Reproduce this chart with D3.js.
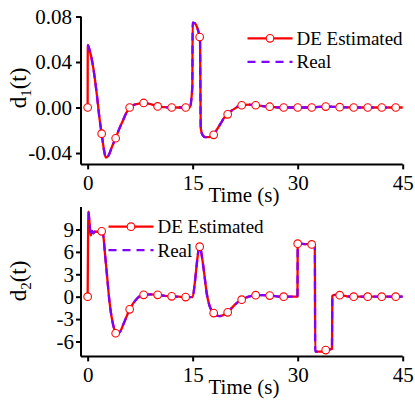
<!DOCTYPE html>
<html>
<head>
<meta charset="utf-8">
<script src="https://cdn.jsdelivr.net/npm/d3@7"></script>
<style>
  html, body { margin: 0; padding: 0; background: #fff; }
  svg { display: block; }
  svg text { font-family: 'Liberation Serif', 'DejaVu Serif', serif !important; }
</style>
</head>
<body>
<script>
// ---------- DATA ----------
const xTicks = [0, 15, 30, 45];
const markerTimes = [0,2,4,6,8,10,12,14,16,18,20,22,24,26,28,30,32,34,36,38,40,42,44];

// d1 : DE Estimated (red)
const d1EstT = [0,0.02,0.3,0.8,1.3,1.7,2.0,2.3,2.6,3.0,3.5,4.0,4.5,5.0,5.5,6.0,6.5,7.0,8.0,9.0,10.0,11.0,12.0,13.0,14.0,14.6,14.95,15.0,15.3,15.6,15.9,16.05,16.15,16.4,16.8,17.3,18.0,18.5,19.0,19.5,20.0,20.5,21.0,21.5,22.0,23.0,24.0,25.0,26.0,27.0,28.0,30,32,33,34,35,36,38,40,42,44,45];
const d1EstV = [0,0.055,0.050,0.035,0.012,-0.010,-0.023,-0.036,-0.044,-0.042,-0.034,-0.027,-0.019,-0.012,-0.005,0.000,0.002,0.003,0.0038,0.003,0.001,0.0003,0,0,0,0,0.018,0.0745,0.074,0.071,0.065,0.061,-0.018,-0.024,-0.026,-0.026,-0.024,-0.019,-0.014,-0.009,-0.006,-0.003,-0.001,0.001,0.002,0.0025,0.002,0.0012,0.0007,0.0002,0,0,0,0.0005,0.0008,0.0006,0.0003,0,0,0,0,0];
// d1 : Real (purple dashed)
const d1RealT = [0.02,0.3,0.8,1.3,1.7,2.0,2.3,2.6,3.0,3.5,4.0,4.5,5.0,5.5,6.0,6.5,7.0,8.0,9.0,10.0,11.0,12.0,13.0,14.0,14.6,14.95,15.0,15.3,15.6,15.9,16.05,16.15,16.4,16.8,17.3,18.0,18.5,19.0,19.5,20.0,20.5,21.0,21.5,22.0,23.0,24.0,25.0,26.0,27.0,28.0,30,32,33,34,35,36,38,40,42,44,45];
const d1RealV = [0.055,0.050,0.035,0.012,-0.010,-0.023,-0.036,-0.044,-0.042,-0.034,-0.027,-0.019,-0.012,-0.005,0.000,0.002,0.003,0.0038,0.003,0.001,0.0003,0,0,0,0,0.018,0.0745,0.074,0.071,0.065,0.061,-0.018,-0.024,-0.026,-0.026,-0.024,-0.019,-0.014,-0.009,-0.006,-0.003,-0.001,0.001,0.002,0.0025,0.002,0.0012,0.0007,0.0002,0,0,0,0.0005,0.0008,0.0006,0.0003,0,0,0,0,0];
// d1 markers (every 2 s)
const d1Markers = [0,-0.023,-0.027,0.000,0.004,0.001,0,0,0.062,-0.024,-0.006,0.002,0.002,0.0007,0,0,0,0.0008,0.0003,0,0,0,0];
const d1Ticks = [-0.04, 0.00, 0.04, 0.08];

// d2 : DE Estimated (red)
const d2EstT = [0,0.12,0.3,0.45,0.6,0.8,1.0,1.5,2.0,2.2,2.5,2.8,3.1,3.4,3.7,4.0,4.3,4.7,5.1,5.5,6.0,6.5,7.0,7.5,8.0,9.0,10.0,11.0,12.0,13.0,14.0,15.0,15.3,15.6,15.85,16.05,16.3,16.6,17.0,17.4,17.8,18.0,18.4,18.8,19.3,20.0,20.5,21.0,21.5,22.0,23.0,24.0,25.0,26.0,27.0,28.0,29.97,30.0,30.25,31.0,32.0,32.45,32.5,33.5,34.0,34.9,34.95,35.3,36.0,37.0,38.0,40,42,44,45];
const d2EstV = [0,11.4,9.5,8.2,8.8,8.5,8.7,8.7,8.75,8.4,5.5,2.5,-0.5,-2.6,-4.0,-4.9,-5.0,-4.6,-3.7,-2.8,-1.7,-0.9,-0.3,0.1,0.25,0.3,0.25,0.12,0.05,0,-0.05,-0.05,1.8,4.5,6.3,6.7,5.5,3.5,0.5,-1.2,-2.0,-2.2,-2.5,-2.6,-2.5,-2.1,-1.6,-1.1,-0.7,-0.4,0.0,0.2,0.2,0.15,0.05,0,0,6.6,7.1,7.05,7.0,6.7,-7.35,-7.35,-7.15,-7.0,0.1,0.25,0.2,0.05,0,0,0,0,0];
// d2 : Real (purple dashed)
const d2RealT = [0.12,0.3,0.45,0.6,0.8,1.0,1.5,2.0,2.2,2.5,2.8,3.1,3.4,3.7,4.0,4.3,4.7,5.1,5.5,6.0,6.5,7.0,7.5,8.0,9.0,10.0,11.0,12.0,13.0,14.0,15.0,15.3,15.6,15.85,16.05,16.3,16.6,17.0,17.4,17.8,18.0,18.4,18.8,19.3,20.0,20.5,21.0,21.5,22.0,23.0,24.0,25.0,26.0,27.0,28.0,29.97,30.0,30.25,31.0,32.0,32.45,32.5,33.5,34.0,34.9,34.95,35.3,36.0,37.0,38.0,40,42,44,45];
const d2RealV = [11.4,9.5,8.2,8.8,8.5,8.7,8.7,8.75,8.4,5.5,2.5,-0.5,-2.6,-4.0,-4.9,-5.0,-4.6,-3.7,-2.8,-1.7,-0.9,-0.3,0.1,0.25,0.3,0.25,0.12,0.05,0,-0.05,-0.05,1.8,4.5,6.3,6.7,5.5,3.5,0.5,-1.2,-2.0,-2.2,-2.5,-2.6,-2.5,-2.1,-1.6,-1.1,-0.7,-0.4,0.0,0.2,0.2,0.15,0.05,0,0,6.6,7.1,7.05,7.0,6.7,-7.35,-7.35,-7.15,-7.0,0.1,0.25,0.2,0.05,0,0,0,0,0];
// d2 markers (every 2 s)
const d2Markers = [0,8.75,-4.9,-1.7,0.25,0.25,0.05,-0.05,6.7,-2.2,-2.1,-0.4,0.2,0.15,0,7.1,7.0,-7.15,0.2,0,0,0,0];
const d2Ticks = [-6, -3, 0, 3, 6, 9];

const legendLabels = ["DE Estimated", "Real"];
const xLabel = "Time (s)";

// ---------- STYLE ----------
const RED = "#FF0000";
const PURPLE = "#8000FF";
const SERIF = "'Liberation Serif', 'DejaVu Serif', serif";

const svg = d3.select("body").append("svg")
  .attr("width", 415).attr("height", 405)
  .style("font-family", SERIF);

function zip(ts, vs) { return ts.map((t, i) => [t, vs[i]]); }

function panel(cfg) {
  const x = d3.scaleLinear().domain([-0.95, 45]).range([81, 402.7]);
  const y = d3.scaleLinear().domain(cfg.yDomain).range(cfg.yRange);
  const g = svg.append("g");

  // axes
  const xAxis = d3.axisBottom(x).tickValues(xTicks).tickSize(5).tickPadding(6).tickFormat(d => String(d));
  const gx = g.append("g").attr("transform", `translate(0,${cfg.yRange[0]})`).call(xAxis);
  const yAxis = d3.axisLeft(y).tickValues(cfg.yTicks).tickSize(5).tickPadding(cfg.yPad).tickFormat(cfg.fmt);
  const gy = g.append("g").attr("transform", `translate(81,0)`).call(yAxis);
  [gx, gy].forEach(a => {
    a.attr("font-family", null).attr("font-size", null);
    a.select(".domain").attr("stroke", "#000").attr("stroke-width", 2);
    a.selectAll(".tick line").attr("stroke", "#000").attr("stroke-width", 2);
    a.selectAll(".tick text").style("font-family", SERIF).style("font-size", "21px").attr("fill", "#000");
  });
  gx.select(".domain").attr("d", `M81,0H${x(45)}`);
  gy.select(".domain").attr("d", `M0,${cfg.yRange[0]}V${cfg.yRange[1]}`);

  // x label
  g.append("text").attr("x", 244).attr("y", cfg.yRange[0] + 38)
    .attr("text-anchor", "middle").style("font-family", SERIF).style("font-size", "21px").text(xLabel);

  // y label
  const yl = g.append("text")
    .attr("transform", `translate(26,${cfg.yLabelY}) rotate(-90)`)
    .attr("text-anchor", "middle").style("font-family", SERIF).style("font-size", "23px");
  yl.append("tspan").text("d");
  yl.append("tspan").attr("dy", 5).style("font-size", "15px").text(cfg.sub);
  yl.append("tspan").attr("dy", -5).text("(t)");

  const line = d3.line().x(d => x(d[0])).y(d => y(d[1])).curve(d3.curveMonotoneX);

  g.append("path").datum(zip(cfg.estT, cfg.estV))
    .attr("d", line).attr("fill", "none").attr("stroke", RED).attr("stroke-width", 2.3)
    .attr("stroke-linejoin", "round");
  g.append("path").datum(zip(cfg.realT, cfg.realV))
    .attr("d", line).attr("fill", "none").attr("stroke", PURPLE).attr("stroke-width", 2.3)
    .attr("stroke-dasharray", "8,5");

  g.selectAll("circle.m").data(zip(markerTimes, cfg.markers)).enter()
    .append("circle").attr("class", "m")
    .attr("cx", d => x(d[0])).attr("cy", d => y(d[1])).attr("r", 3.8)
    .attr("fill", "#fff").attr("stroke", RED).attr("stroke-width", 1.1);

  // legend
  const L = cfg.legend;
  const lg = g.append("g");
  lg.append("line").attr("x1", L.x).attr("x2", L.x + 45).attr("y1", L.y).attr("y2", L.y)
    .attr("stroke", RED).attr("stroke-width", 2.3);
  lg.append("circle").attr("cx", L.x + 22.5).attr("cy", L.y).attr("r", 3.8)
    .attr("fill", "#fff").attr("stroke", RED).attr("stroke-width", 1.1);
  lg.append("line").attr("x1", L.x).attr("x2", L.x + 45).attr("y1", L.y + 23.5).attr("y2", L.y + 23.5)
    .attr("stroke", PURPLE).attr("stroke-width", 2.3).attr("stroke-dasharray", "8,6");
  legendLabels.forEach((s, i) => {
    lg.append("text").attr("x", L.x + 49).attr("y", L.y + i * 23.5).attr("dy", "0.35em")
      .style("font-family", SERIF).style("font-size", "19px").text(s);
  });
}

panel({
  estT: d1EstT, estV: d1EstV, realT: d1RealT, realV: d1RealV, markers: d1Markers,
  yDomain: [-0.05, 0.08], yRange: [164.4, 16.5], yTicks: d1Ticks, yPad: 4,
  fmt: d => d.toFixed(2), sub: "1", yLabelY: 88,
  legend: { x: 247.5, y: 38.3 }
});

panel({
  estT: d2EstT, estV: d2EstV, realT: d2RealT, realV: d2RealV, markers: d2Markers,
  yDomain: [-8, 12], yRange: [356.4, 207.1], yTicks: d2Ticks, yPad: 2,
  fmt: d => String(d), sub: "2", yLabelY: 281,
  legend: { x: 108.5, y: 226.7 }
});
</script>
</body>
</html>
